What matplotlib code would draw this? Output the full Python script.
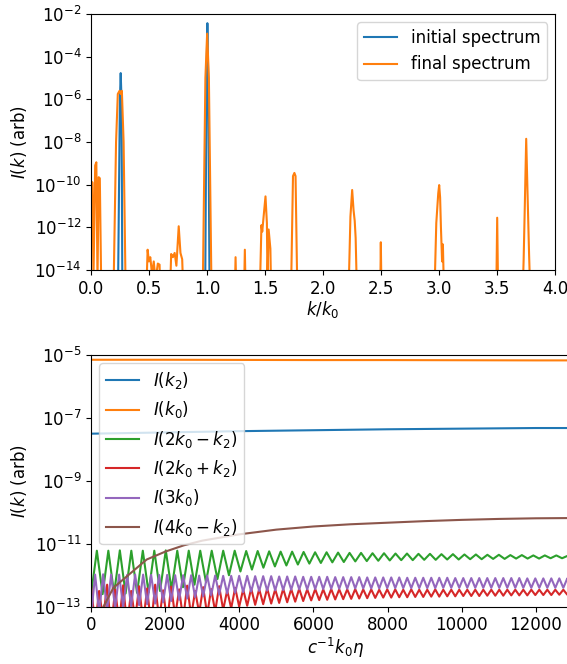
import numpy as np
import matplotlib
matplotlib.use("Agg")
import matplotlib.pyplot as plt

plt.rcParams["font.size"] = 12

# ---- top panel: spectrum vs k/k0 (log10 of I) ----
k_init = [0.0, 0.23, 0.248, 0.255, 0.262, 0.27, 0.982, 0.995, 1.002, 1.009, 1.022, 4.0]
logI_init = [-16, -16, -6.0, -4.77, -6.0, -16, -16, -5.0, -2.43, -5.0, -16, -16]

k_final = [
    0.0, 0.012, 0.02, 0.035, 0.045, 0.055, 0.065, 0.075, 0.09,
    0.19, 0.215, 0.23, 0.245, 0.255, 0.265, 0.28, 0.30,
    0.47, 0.487, 0.498, 0.51, 0.525, 0.54, 0.555, 0.575, 0.59, 0.60,
    0.675, 0.69, 0.705, 0.72, 0.735, 0.755, 0.77, 0.785, 0.80,
    0.96, 0.985, 1.0, 1.015, 1.04,
    1.235, 1.245, 1.255, 1.315, 1.325, 1.335,
    1.45, 1.468, 1.475, 1.485, 1.503, 1.515, 1.52, 1.53, 1.545, 1.555,
    1.72, 1.74, 1.752, 1.762, 1.78,
    2.215, 2.235, 2.25, 2.262, 2.272, 2.28, 2.295,
    2.49, 2.497, 2.505,
    2.955, 2.975, 2.992, 3.0, 3.008, 3.015, 3.025, 3.032, 3.045,
    3.49, 3.5, 3.51,
    3.715, 3.728, 3.738, 3.75, 3.762, 3.775, 3.79,
    4.0,
]
logI_final = [
    -9.85, -9.9, -14.5, -9.1, -8.95, -14.5, -9.65, -9.7, -16,
    -16, -8.0, -5.75, -5.6, -5.75, -5.6, -8.0, -16,
    -16, -13.05, -13.6, -13.4, -14.2, -13.6, -14.5, -13.7, -13.75, -16,
    -16, -13.25, -13.4, -13.2, -13.8, -11.95, -13.2, -13.5, -16,
    -16, -5.0, -2.92, -5.0, -16,
    -16, -13.4, -16, -16, -13.05, -16,
    -16, -11.9, -12.2, -11.6, -10.55, -11.8, -14.5, -12.1, -13.0, -16,
    -16, -9.6, -9.45, -9.6, -16,
    -16, -11.5, -10.25, -11.2, -11.7, -12.5, -16,
    -16, -12.7, -16,
    -16, -11.8, -10.4, -10.02, -10.6, -12.0, -13.6, -12.8, -16,
    -16, -11.55, -16,
    -16, -13.5, -11.0, -7.85, -10.5, -13.3, -16,
    -16,
]

# ---- bottom panel: mode intensities vs time (log10 of I) ----
t_k0 = [0, 2000, 4000, 6000, 8000, 10000, 12000, 13200]
log_k0 = [-5.15, -5.15, -5.155, -5.16, -5.16, -5.165, -5.17, -5.17]

t_k2 = [0, 1000, 2000, 3000, 4000, 6000, 8000, 10000, 12000, 13200]
log_k2 = [-7.50, -7.48, -7.46, -7.44, -7.42, -7.39, -7.36, -7.34, -7.32, -7.32]

t_4k0mk2 = [0, 200, 400, 600, 1000, 1500, 2000, 2500, 3000, 3500, 4000, 5000,
            6000, 7000, 8000, 9000, 10000, 11000, 12000, 13200]
log_4k0mk2 = [-14.0, -13.3, -12.85, -12.4, -12.0, -11.5, -11.25, -11.05, -10.9, -10.8,
              -10.7, -10.55, -10.45, -10.38, -10.33, -10.28, -10.24, -10.21, -10.19, -10.18]

# 2k0 - k2: troughs at t = 0, 310, 620, ...; peaks half way between
green_half = 155
green_trough = [
    -12.6, -12.6, -12.58, -12.58, -12.56, -12.55, -12.5, -12.45, -12.38, -12.3,
    -12.22, -12.12, -12.0, -11.88, -11.82, -11.76, -11.72, -11.69, -11.66, -11.63,
    -11.61, -11.59, -11.58, -11.56, -11.55, -11.54, -11.53, -11.52, -11.52, -11.51,
    -11.51, -11.50, -11.50, -11.49, -11.49, -11.48, -11.48, -11.47, -11.47, -11.47,
    -11.46, -11.46, -11.46,
]
green_peak = [
    -11.22, -11.22, -11.21, -11.22, -11.22, -11.22, -11.21, -11.22, -11.22, -11.22,
    -11.22, -11.22, -11.22, -11.23, -11.23, -11.24, -11.25, -11.25, -11.26, -11.27,
    -11.27, -11.28, -11.29, -11.29, -11.30, -11.30, -11.31, -11.31, -11.32, -11.32,
    -11.33, -11.33, -11.34, -11.34, -11.35, -11.35, -11.36, -11.36, -11.37, -11.37,
    -11.37, -11.38, -11.38,
]

# 3k0: troughs at t = 0, 216, 432, ...; peaks half way between
purple_half = 108
purple_trough = [
    -13.3, -13.2, -13.1, -13.05, -13.0, -12.98, -12.95, -12.92, -12.9, -12.86,
    -12.82, -12.78, -12.74, -12.7, -12.67, -12.64, -12.61, -12.58, -12.56, -12.54,
    -12.52, -12.5, -12.49, -12.48, -12.47, -12.46, -12.45, -12.45, -12.44, -12.44,
    -12.43, -12.43, -12.43, -12.42, -12.42, -12.42, -12.42, -12.41, -12.41, -12.41,
    -12.41, -12.41, -12.41, -12.41, -12.40, -12.40, -12.40, -12.40, -12.40, -12.40,
    -12.40, -12.40, -12.40, -12.40, -12.40, -12.40, -12.40, -12.40, -12.40, -12.40,
    -12.40, -12.40,
]
purple_peak = [
    -11.98, -11.97, -11.98, -11.98, -11.99, -11.98, -11.98, -11.99, -11.99, -11.99,
    -12.00, -12.00, -12.00, -12.01, -12.01, -12.01, -12.02, -12.02, -12.02, -12.02,
    -12.03, -12.03, -12.03, -12.04, -12.04, -12.04, -12.05, -12.05, -12.05, -12.05,
    -12.06, -12.06, -12.06, -12.06, -12.07, -12.07, -12.07, -12.07, -12.07, -12.08,
    -12.08, -12.08, -12.08, -12.08, -12.08, -12.09, -12.09, -12.09, -12.09, -12.09,
    -12.09, -12.09, -12.09, -12.09, -12.10, -12.10, -12.10, -12.10, -12.10, -12.10,
    -12.10,
]

# 2k0 + k2: peaks at t = 0, 216, 432, ...; troughs half way between
red_half = 108
red_peak = [
    -12.35, -12.5, -12.3, -12.45, -12.32, -12.5, -12.35, -12.42, -12.3, -12.48,
    -12.36, -12.45, -12.33, -12.5, -12.38, -12.44, -12.35, -12.48, -12.4, -12.45,
    -12.42, -12.44, -12.42, -12.45, -12.43, -12.44, -12.43, -12.45, -12.44, -12.45,
    -12.44, -12.45, -12.45, -12.44, -12.45, -12.45, -12.46, -12.45, -12.45, -12.46,
    -12.45, -12.46, -12.46, -12.45, -12.46, -12.46, -12.46, -12.46, -12.46, -12.46,
    -12.46, -12.46, -12.46, -12.46, -12.46, -12.46, -12.46, -12.46, -12.46, -12.46,
    -12.46, -12.46,
]
red_trough = [
    -13.6, -13.4, -13.7, -13.5, -13.6, -13.4, -13.5, -13.6, -13.4, -13.5,
    -13.3, -13.4, -13.3, -13.2, -13.25, -13.15, -13.1, -13.05, -13.0, -12.97,
    -12.94, -12.92, -12.9, -12.88, -12.86, -12.84, -12.82, -12.8, -12.79, -12.78,
    -12.77, -12.76, -12.75, -12.74, -12.73, -12.72, -12.71, -12.71, -12.70, -12.70,
    -12.69, -12.69, -12.68, -12.68, -12.67, -12.67, -12.66, -12.66, -12.66, -12.65,
    -12.65, -12.65, -12.64, -12.64, -12.64, -12.63, -12.63, -12.63, -12.62, -12.62,
    -12.62,
]


def zigzag(first, second, half):
    # interleave alternating extrema: first[0], second[0], first[1], ...
    vals = []
    for i in range(len(first)):
        vals.append(first[i])
        if i < len(second):
            vals.append(second[i])
    t = np.arange(len(vals)) * half
    return t, 10.0 ** np.array(vals)


fig = plt.figure(figsize=(5.67, 6.64), dpi=100)

# top
ax1 = fig.add_axes([0.1607, 0.5934, 0.8185, 0.3855])
ax1.plot(k_init, 10.0 ** np.array(logI_init), color="tab:blue", label="initial spectrum")
ax1.plot(k_final, 10.0 ** np.array(logI_final), color="tab:orange", label="final spectrum")
ax1.set_yscale("log")
ax1.set_xlim(0, 4)
ax1.set_ylim(1e-14, 1e-2)
ax1.set_xlabel(r"$k/k_0$", labelpad=1)
ax1.set_ylabel(r"$I(k)$ (arb)")
ax1.legend(loc="upper right")

# bottom
ax2 = fig.add_axes([0.1607, 0.0863, 0.8626, 0.379])
ax2.plot(t_k2, 10.0 ** np.array(log_k2), color="tab:blue", label=r"$I(k_2)$")
ax2.plot(t_k0, 10.0 ** np.array(log_k0), color="tab:orange", label=r"$I(k_0)$")
tg, ig = zigzag(green_trough, green_peak, green_half)
ax2.plot(tg, ig, color="tab:green", label=r"$I(2k_0-k_2)$")
tr, ir = zigzag(red_peak, red_trough, red_half)
ax2.plot(tr, ir, color="tab:red", label=r"$I(2k_0+k_2)$")
tp, ip = zigzag(purple_trough, purple_peak, purple_half)
ax2.plot(tp, ip, color="tab:purple", label=r"$I(3k_0)$")
ax2.plot(t_4k0mk2, 10.0 ** np.array(log_4k0mk2), color="tab:brown", label=r"$I(4k_0-k_2)$")
ax2.set_yscale("log")
ax2.set_xlim(0, 13200)
ax2.set_ylim(1e-13, 1e-5)
ax2.set_xlabel(r"$c^{-1}k_0\eta$", labelpad=1)
ax2.set_ylabel(r"$I(k)$ (arb)")
ax2.legend(loc="upper left")

fig.savefig("out.png", dpi=100)
